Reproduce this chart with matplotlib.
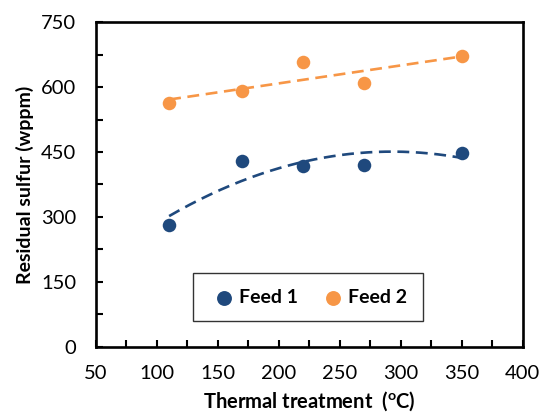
import numpy as np
import matplotlib
matplotlib.use('Agg')
import matplotlib.pyplot as plt
from matplotlib.ticker import MultipleLocator

plt.rcParams['font.family'] = ['Lato', 'DejaVu Sans']
plt.rcParams['mathtext.fontset'] = 'custom'
plt.rcParams['mathtext.rm'] = 'Lato:bold'

# residual sulfur vs thermal treatment temperature
temp = [110, 170, 220, 270, 350]
feed1 = [282, 430, 418, 420, 448]
feed2 = [563, 590, 657, 610, 672]

blue = '#1F497D'
orange = '#F79646'

fig = plt.figure(figsize=(5.39, 4.16), dpi=100)
ax = fig.add_axes([0.178, 0.166, 0.792, 0.781])

# trendlines: 2nd order for feed 1, linear for feed 2
xs = np.linspace(min(temp), max(temp), 200)
p1 = np.polyfit(temp, feed1, 2)
p2 = np.polyfit(temp, feed2, 1)
ax.plot(xs, np.polyval(p1, xs), color=blue, lw=1.9, ls=(0, (4.5, 2.5)), zorder=2)
ax.plot(xs, np.polyval(p2, xs), color=orange, lw=1.9, ls=(0, (4.5, 2.5)), zorder=2)

ax.scatter(temp, feed1, s=95, color=blue, label='Feed 1', zorder=3, linewidths=0)
ax.scatter(temp, feed2, s=95, color=orange, label='Feed 2', zorder=3, linewidths=0)

ax.set_xlim(50, 400)
ax.set_ylim(0, 750)
ax.xaxis.set_major_locator(MultipleLocator(50))
ax.xaxis.set_minor_locator(MultipleLocator(25))
ax.yaxis.set_major_locator(MultipleLocator(150))
ax.yaxis.set_minor_locator(MultipleLocator(75))
ax.tick_params(which='both', direction='in', length=5, width=1.5, labelsize=14.5)
ax.tick_params(axis='x', pad=13)
ax.tick_params(axis='y', pad=14)
for s in ax.spines.values():
    s.set_linewidth(1.9)

ax.set_xlabel(r'Thermal treatment  ($\mathregular{^{o}}$C)', fontsize=14.5, fontweight='bold', labelpad=5)
ax.set_ylabel('Residual sulfur (wppm)', fontsize=14, fontweight='bold', labelpad=5)

leg = ax.legend(loc='center', bbox_to_anchor=(0.204, 0.083, 0.585, 0.139),
                ncol=2, frameon=True, fancybox=False, edgecolor='black', mode='expand',
                handletextpad=0.0, borderpad=0.8, prop={'weight': 'bold', 'size': 14},
                columnspacing=1.2, handlelength=1.6, markerscale=1.1)
leg.get_frame().set_linewidth(1.0)

fig.savefig('out.png', dpi=100)
